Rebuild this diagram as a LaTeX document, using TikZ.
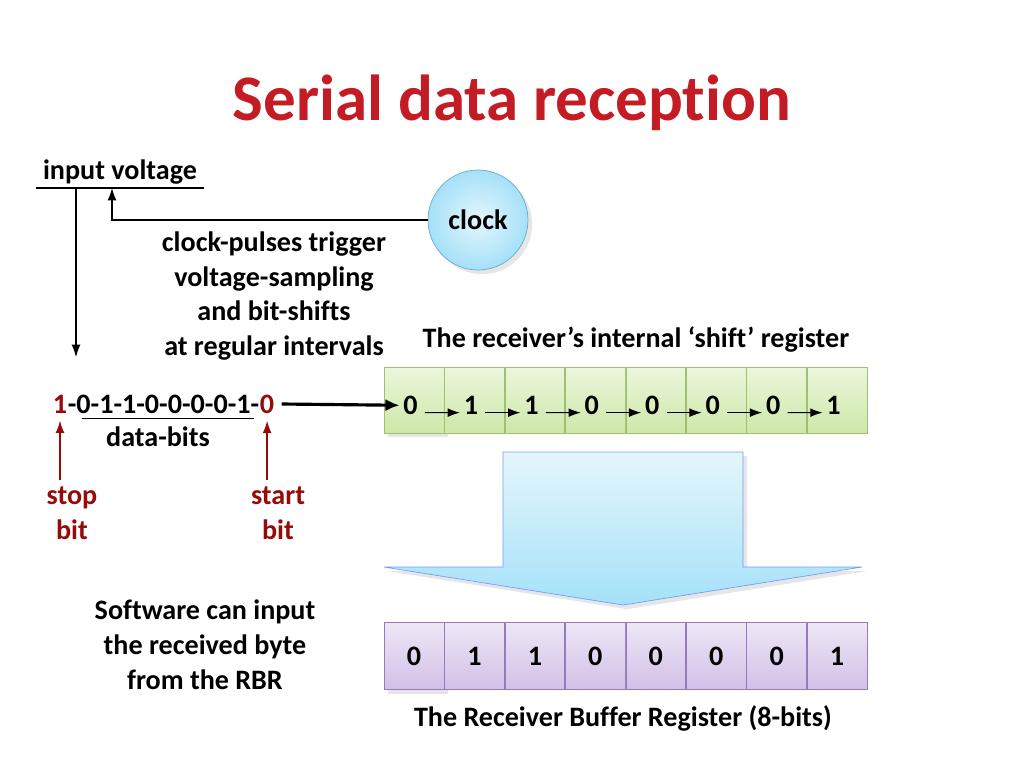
\documentclass[tikz,border=0pt]{standalone}
\usepackage{fontspec}
\setmainfont[Ligatures={NoCommon}]{Carlito}
\usepackage{xcolor}
\usetikzlibrary{arrows.meta,calc,positioning,shadows}
\definecolor{srred}{RGB}{196,28,36}
\definecolor{srdark}{RGB}{150,10,10}
\definecolor{srline}{RGB}{100,170,210}
\definecolor{srgreen}{RGB}{205,232,168}
\definecolor{srgreenl}{RGB}{236,246,220}
\definecolor{srgreend}{RGB}{160,192,112}
\definecolor{srlilac}{RGB}{210,192,232}
\definecolor{srlilacl}{RGB}{238,230,246}
\definecolor{srlilacd}{RGB}{150,122,190}
\definecolor{srsky}{RGB}{165,225,248}
\definecolor{srskyl}{RGB}{228,246,252}

\begin{document}
\begin{tikzpicture}[x=0.02cm, y=-0.02cm,
  every node/.style={font=\bfseries\fontsize{16}{19.8}\selectfont},
  heading/.style={font=\bfseries\fontsize{37}{40}\selectfont, text=srred},
  gcell/.style={draw=srgreend, top color=srgreenl, bottom color=srgreen,
    minimum width=1.195cm, minimum height=1.32cm, inner sep=0pt},
  pcell/.style={gcell, draw=srlilacd, top color=srlilacl, bottom color=srlilac,
    minimum height=1.34cm},
  bit/.style={inner xsep=1pt, inner ysep=1pt},
  arr/.style={-{Latex[length=7pt,width=5pt]}, draw=black, line width=0.6pt},
  bigarr/.style={-{Latex[length=8pt,width=7pt]}, draw=black, line width=1.8pt},
  redarr/.style={-{Latex[length=7pt,width=5pt]}, draw=srdark, line width=0.8pt},
  lines/.style={align=center}
]
  \useasboundingbox (0,0) rectangle (1024,768);

  % title
  \node[heading] (title) at (512,103) {Serial data reception};

  % input side
  \node[inner xsep=0.14cm, inner ysep=2pt] (inv) at (120,172) {input voltage};
  \draw[line width=0.9pt] (inv.south west) -- (inv.south east);
  \coordinate (vout) at (76,357);
  \coordinate (vin) at (112,188);
  \draw[arr] (inv.south west -| vout) -- (vout);

  \node[circle, draw=srline, inner color=srskyl, outer color=srsky,
    minimum size=2cm, drop shadow={opacity=0.2}] (clock) at (478,220) {clock};
  \draw[arr] (clock.west) -| (vin);

  \node[lines] (note) at (274,296) {clock-pulses trigger\\voltage-sampling\\and bit-shifts\\at regular intervals};

  % incoming frame
  \node[bit, text=srdark, inner xsep=0pt] (stopone) at (60,404) {1};
  \node[bit, inner xsep=0pt, right=0pt of stopone] (mid) {-0-1-1-0-0-0-0-1-};
  \node[bit, text=srdark, inner xsep=0pt, right=0pt of mid] (startzero) {0};
  \draw[line width=0.6pt] ([xshift=8pt,yshift=-2pt]mid.south west) -- ([xshift=-3pt,yshift=-2pt]mid.south east);
  \node (dbits) at (158,437) {data-bits};

  \node[lines, text=srdark] (stop) at (72,513) {stop\\bit};
  \node[lines, text=srdark] (start) at (278,513) {start\\bit};
  \draw[redarr] (stop.north -| stopone) -- ([yshift=-3pt]stopone.south);
  \draw[redarr] (start.north -| startzero) -- ([yshift=-3pt]startzero.south);

  % shift register
  \node (srlabel) at (636,339) {The receiver’s internal ‘shift’ register};
  \node[gcell, drop shadow={opacity=0.2}] (g1) at (414,400) {};
  \node[gcell, right=0pt of g1] (g2) {};
  \node[gcell, right=0pt of g2] (g3) {};
  \node[gcell, right=0pt of g3] (g4) {};
  \node[gcell, right=0pt of g4] (g5) {};
  \node[gcell, right=0pt of g5] (g6) {};
  \node[gcell, right=0pt of g6] (g7) {};
  \node[gcell, right=0pt of g7] (g8) {};

  \node[bit] (s1) at ([xshift=-2pt,yshift=-3pt]g1.center) {0};
  \node[bit] (s2) at ([xshift=-2pt,yshift=-3pt]g2.center) {1};
  \node[bit] (s3) at ([xshift=-2pt,yshift=-3pt]g3.center) {1};
  \node[bit] (s4) at ([xshift=-2pt,yshift=-3pt]g4.center) {0};
  \node[bit] (s5) at ([xshift=-2pt,yshift=-3pt]g5.center) {0};
  \node[bit] (s6) at ([xshift=-2pt,yshift=-3pt]g6.center) {0};
  \node[bit] (s7) at ([xshift=-2pt,yshift=-3pt]g7.center) {0};
  \node[bit] (s8) at ([xshift=-2pt,yshift=-3pt]g8.center) {1};

  \draw[bigarr] ([xshift=4pt]startzero.east) -- ([xshift=-1pt]s1.west);
  \draw[arr] ([xshift=3pt,yshift=1pt]s1.base east) -- ([xshift=-1pt,yshift=1pt]s2.base west);
  \draw[arr] ([xshift=3pt,yshift=1pt]s2.base east) -- ([xshift=-1pt,yshift=1pt]s3.base west);
  \draw[arr] ([xshift=3pt,yshift=1pt]s3.base east) -- ([xshift=-1pt,yshift=1pt]s4.base west);
  \draw[arr] ([xshift=3pt,yshift=1pt]s4.base east) -- ([xshift=-1pt,yshift=1pt]s5.base west);
  \draw[arr] ([xshift=3pt,yshift=1pt]s5.base east) -- ([xshift=-1pt,yshift=1pt]s6.base west);
  \draw[arr] ([xshift=3pt,yshift=1pt]s6.base east) -- ([xshift=-1pt,yshift=1pt]s7.base west);
  \draw[arr] ([xshift=3pt,yshift=1pt]s7.base east) -- ([xshift=-1pt,yshift=1pt]s8.base west);

  % transfer arrow
  \draw[draw=srsky!70!blue, top color=srskyl, bottom color=srsky, drop shadow={opacity=0.2}]
    (503,452) -- (743,452) -- (743,567) -- (862,567) -- (623,605) -- (384,567) -- (503,567) -- cycle;

  % receiver buffer register
  \node[pcell, drop shadow={opacity=0.2}] (p1) at (414,656) {0};
  \node[pcell, right=0pt of p1] (p2) {1};
  \node[pcell, right=0pt of p2] (p3) {1};
  \node[pcell, right=0pt of p3] (p4) {0};
  \node[pcell, right=0pt of p4] (p5) {0};
  \node[pcell, right=0pt of p5] (p6) {0};
  \node[pcell, right=0pt of p6] (p7) {0};
  \node[pcell, right=0pt of p7] (p8) {1};
  \node (rbrlabel) at (623,718) {The Receiver Buffer Register (8-bits)};

  \node[lines] (sw) at (205,645) {Software can input\\the received byte\\from the RBR};
\end{tikzpicture}
\end{document}
